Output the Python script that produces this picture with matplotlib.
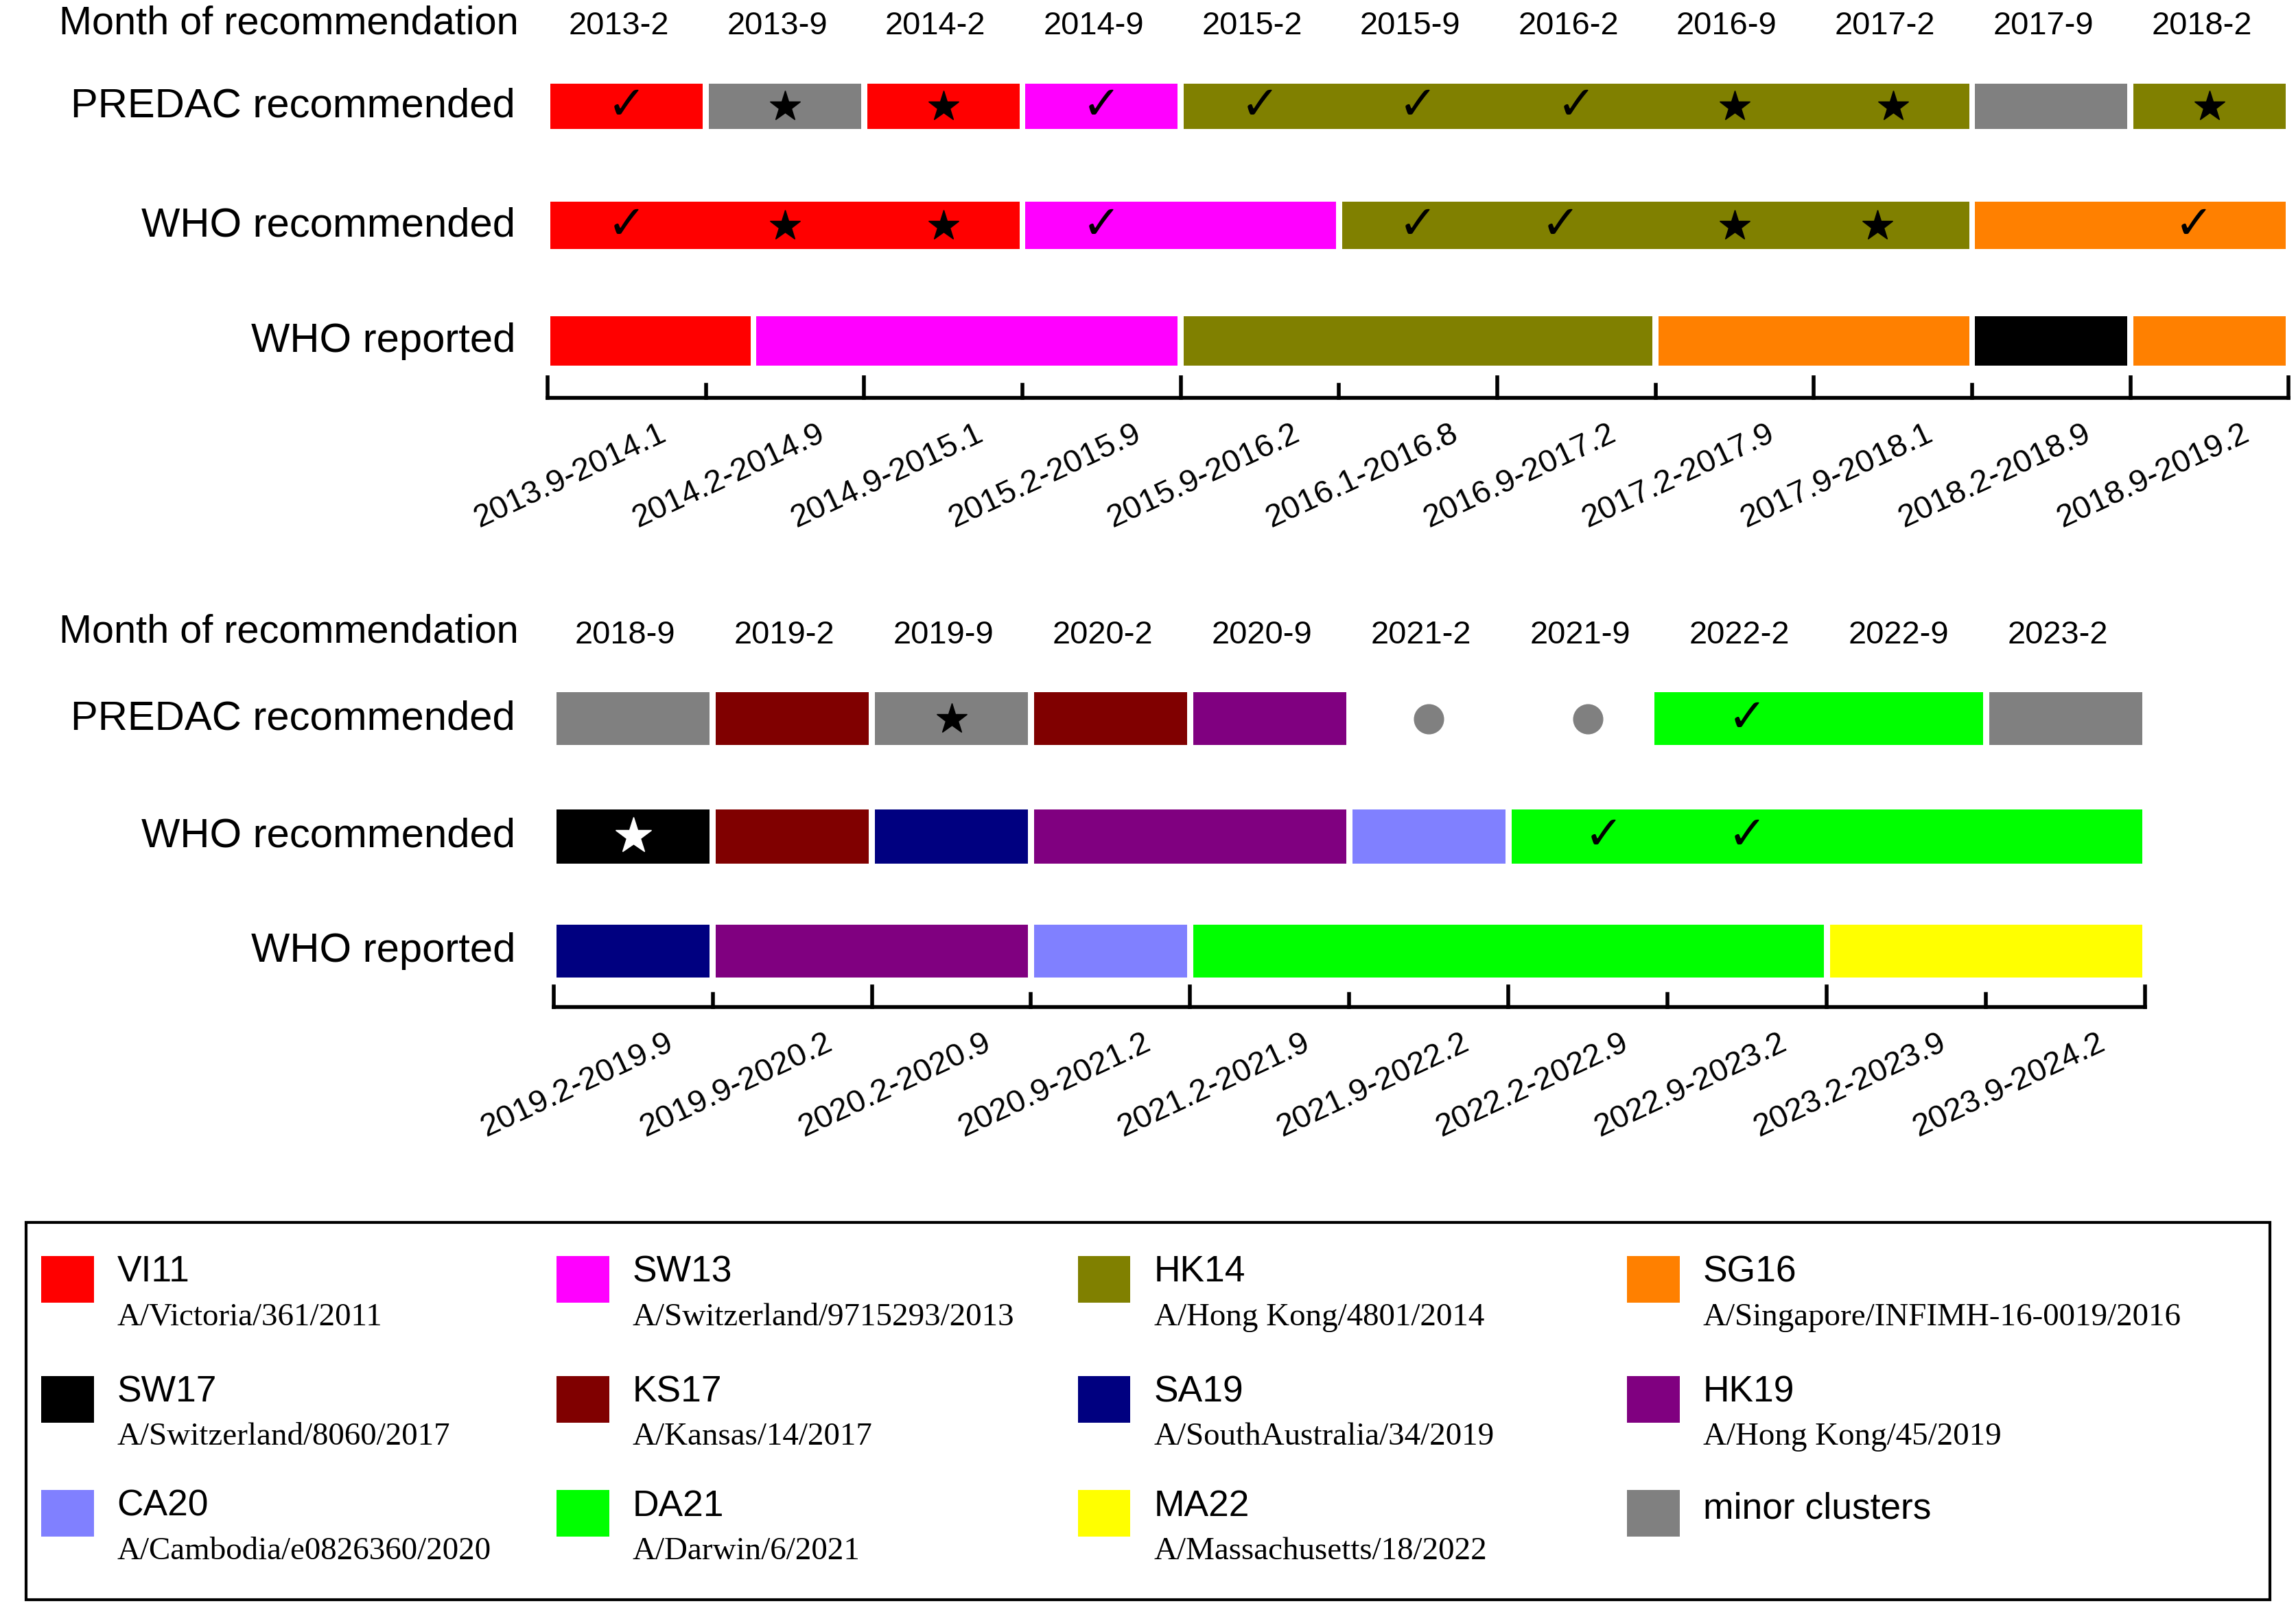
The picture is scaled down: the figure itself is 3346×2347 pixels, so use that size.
import numpy as np
import matplotlib.pyplot as plt
from matplotlib.patches import Rectangle

plt.rcParams["font.family"] = ["Liberation Sans", "DejaVu Sans"]

colors = {
    "VI11": "#FF0000", "SW13": "#FF00FF", "HK14": "#808000", "SG16": "#FF8000",
    "SW17": "#000000", "KS17": "#800000", "SA19": "#000080", "HK19": "#800080",
    "CA20": "#8080FF", "DA21": "#00FF00", "MA22": "#FFFF00", "minor": "#808080",
}
strains = {
    "VI11": "A/Victoria/361/2011", "SW13": "A/Switzerland/9715293/2013",
    "HK14": "A/Hong Kong/4801/2014", "SG16": "A/Singapore/INFIMH-16-0019/2016",
    "SW17": "A/Switzerland/8060/2017", "KS17": "A/Kansas/14/2017",
    "SA19": "A/SouthAustralia/34/2019", "HK19": "A/Hong Kong/45/2019",
    "CA20": "A/Cambodia/e0826360/2020", "DA21": "A/Darwin/6/2021",
    "MA22": "A/Massachusetts/18/2022", "minor": None,
}
legend_order = ["VI11", "SW13", "HK14", "SG16", "SW17", "KS17", "SA19", "HK19",
                "CA20", "DA21", "MA22", "minor"]

# panel 1 (slot units along season axis)
months1 = ["2013-2", "2013-9", "2014-2", "2014-9", "2015-2", "2015-9", "2016-2",
           "2016-9", "2017-2", "2017-9", "2018-2"]
seasons1 = ["2013.9-2014.1", "2014.2-2014.9", "2014.9-2015.1", "2015.2-2015.9",
            "2015.9-2016.2", "2016.1-2016.8", "2016.9-2017.2", "2017.2-2017.9",
            "2017.9-2018.1", "2018.2-2018.9", "2018.9-2019.2"]
predac1 = [(0, 1, "VI11"), (1, 2, "minor"), (2, 3, "VI11"), (3, 4, "SW13"),
           (4, 9, "HK14"), (9, 10, "minor"), (10, 11, "HK14")]
predac1_check = [0.5, 3.5, 4.5, 5.5, 6.5]
predac1_star = [1.5, 2.5, 7.5, 8.5, 10.5]
whorec1 = [(0, 3, "VI11"), (3, 5, "SW13"), (5, 9, "HK14"), (9, 11, "SG16")]
whorec1_check = [0.5, 3.5, 5.5, 6.4, 10.4]
whorec1_star = [1.5, 2.5, 7.5, 8.4]
whorep1 = [(0, 1.3, "VI11"), (1.3, 4, "SW13"), (4, 7, "HK14"), (7, 9, "SG16"),
           (9, 10, "SW17"), (10, 11, "SG16")]

# panel 2
months2 = ["2018-9", "2019-2", "2019-9", "2020-2", "2020-9", "2021-2", "2021-9",
           "2022-2", "2022-9", "2023-2"]
seasons2 = ["2019.2-2019.9", "2019.9-2020.2", "2020.2-2020.9", "2020.9-2021.2",
            "2021.2-2021.9", "2021.9-2022.2", "2022.2-2022.9", "2022.9-2023.2",
            "2023.2-2023.9", "2023.9-2024.2"]
predac2 = [(0, 1, "minor"), (1, 2, "KS17"), (2, 3, "minor"), (3, 4, "KS17"),
           (4, 5, "HK19"), (6.9, 9, "DA21"), (9, 10, "minor")]
predac2_check = [7.5]
predac2_star = [2.5]
predac2_dot = [5.5, 6.5]
whorec2 = [(0, 1, "SW17"), (1, 2, "KS17"), (2, 3, "SA19"), (3, 5, "HK19"),
           (5, 6, "CA20"), (6, 10, "DA21")]
whorec2_check = [6.6, 7.5]
whorec2_wstar = [0.5]
whorep2 = [(0, 1, "SA19"), (1, 3, "HK19"), (3, 4, "CA20"), (4, 8, "DA21"), (8, 10, "MA22")]

S = 2.134
def fs(px):
    return px * S * 72 / 100

fig = plt.figure(figsize=(33.46, 23.47), dpi=100)
ax = fig.add_axes([0, 0, 1, 1])
ax.set_xlim(0, 1568)
ax.set_ylim(1100, 0)
ax.axis("off")

def panel(x0, w, n, y_month, months, rows, axis_y, seasons):
    X = lambda s: x0 + s * w
    ax.text(354, y_month, "Month of recommendation", ha="right", va="center", fontsize=fs(27))
    for i, m in enumerate(months):
        ax.text(X(i + 0.45), y_month + 2, m, ha="center", va="center", fontsize=fs(22))
    for label, y0, h, segs, checks, stars, extra in rows:
        ax.text(352, y0 + h / 2, label, ha="right", va="center", fontsize=fs(28))
        for a, b, c in segs:
            ax.add_patch(Rectangle((X(a) + 2, y0), X(b) - X(a) - 4, h, color=colors[c], lw=0))
        for s in checks:
            ax.text(X(s), y0 + h / 2, "✓", ha="center", va="center", fontsize=fs(32),
                    family="DejaVu Sans")
        ax.plot([X(s) for s in stars], [y0 + h / 2] * len(stars), "*", color="k", ms=fs(22))
        for kind, pts in extra:
            if kind == "dot":
                ax.plot([X(s) for s in pts], [y0 + h / 2] * len(pts), "o", color="#808080", ms=fs(20))
            else:
                ax.plot([X(s) for s in pts], [y0 + h / 2] * len(pts), "*", color="white", ms=fs(26))
    ax.plot([X(0), X(n)], [axis_y, axis_y], color="k", lw=4)
    for i in range(n + 1):
        tall = 14 if i % 2 == 0 or i == n else 9
        ax.plot([X(i), X(i)], [axis_y - tall, axis_y], color="k", lw=4)
    for i, s in enumerate(seasons):
        ax.text(X(i + 0.7), axis_y + 14, s, ha="right", va="top", rotation=25,
                rotation_mode="anchor", fontsize=fs(22))

panel(374, 1189 / 11, 11, 16, months1, [
    ("PREDAC recommended", 57, 31, predac1, predac1_check, predac1_star, []),
    ("WHO recommended", 138, 32, whorec1, whorec1_check, whorec1_star, []),
    ("WHO reported", 216, 34, whorep1, [], [], []),
], 272, seasons1)

panel(378, 1087 / 10, 10, 432, months2, [
    ("PREDAC recommended", 473, 36, predac2, predac2_check, predac2_star, [("dot", predac2_dot)]),
    ("WHO recommended", 553, 37, whorec2, whorec2_check, [], [("wstar", whorec2_wstar)]),
    ("WHO reported", 632, 36, whorep2, [], [], []),
], 688, seasons2)

# legend box
ax.add_patch(Rectangle((18, 835), 1532, 258, fill=False, ec="k", lw=3))
col_x = [28, 380, 736, 1111]
row_y = [858, 940, 1018]
for k, key in enumerate(legend_order):
    cx, ry = col_x[k % 4], row_y[k // 4]
    ax.add_patch(Rectangle((cx, ry), 36, 32, color=colors[key], lw=0))
    name = "minor clusters" if key == "minor" else key
    ax.text(cx + 52, ry + 11 if strains[key] else ry + 13, name, va="center", fontsize=fs(25))
    if strains[key]:
        ax.text(cx + 52, ry + 42, strains[key], va="center", fontsize=fs(22),
                family=["Liberation Serif", "DejaVu Serif"])

fig.savefig("out.png", dpi=100, facecolor="white")
